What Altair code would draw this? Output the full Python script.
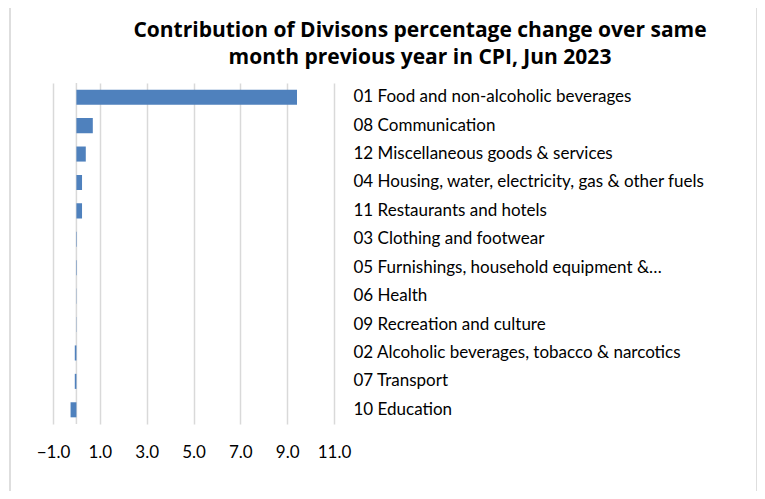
import altair as alt
import pandas as pd

categories = [
    "01 Food and non-alcoholic beverages",
    "08 Communication",
    "12 Miscellaneous goods & services",
    "04 Housing, water, electricity, gas & other fuels",
    "11 Restaurants and hotels",
    "03 Clothing and footwear",
    "05 Furnishings, household equipment &\u2026",
    "06 Health",
    "09 Recreation and culture",
    "02 Alcoholic beverages, tobacco & narcotics",
    "07 Transport",
    "10 Education",
]
values = [9.42, 0.70, 0.40, 0.24, 0.24, 0.02, 0.02, 0.01, 0.01, -0.07, -0.07, -0.25]
x_ticks = [-1, 1, 3, 5, 7, 9, 11]
title_lines = ["Contribution of Divisons percentage change over same",
               "month previous year in CPI, Jun 2023"]

df = pd.DataFrame({"division": categories, "value": values})

W, H = 281, 341
FONT = "Lato"
TITLE_FONT = "Open Sans"

y_enc = alt.Y(
    "division:N",
    sort=categories,
    scale=alt.Scale(paddingInner=0.47, paddingOuter=0.235),
    axis=alt.Axis(
        orient="right", title=None, domain=False, ticks=False,
        labelPadding=19, labelFont=FONT, labelFontSize=17,
        labelColor="#000000", labelAlign="left", labelLimit=420,
    ),
)

bars = alt.Chart(df).mark_bar(color="#4f81bd").encode(
    x=alt.X(
        "value:Q",
        scale=alt.Scale(domain=[-1, 11], nice=False, zero=False),
        axis=alt.Axis(
            values=x_ticks, format=".1f", title=None, domain=False, ticks=False,
            grid=True, gridColor="#d9d9d9", gridWidth=1.5,
            labelFont=FONT, labelFontSize=17, labelColor="#000000",
            labelPadding=20, labelFlush=False, labelOverlap=False,
        ),
    ),
    y=y_enc,
)

zero_rule = alt.Chart(pd.DataFrame({"z": [0]})).mark_rule(
    color="#d9d9d9", strokeWidth=1.5
).encode(x="z:Q")

border = alt.Chart(pd.DataFrame({"b": [0]})).mark_rect(
    fill=None, stroke="#d4d4d4", strokeWidth=1.5, clip=False
).encode(
    x=alt.value(-43), x2=alt.value(704), y=alt.value(-95), y2=alt.value(414)
)

title1 = alt.Chart(pd.DataFrame({"t": [title_lines[0]]})).mark_text(
    font=TITLE_FONT, fontSize=21, fontWeight="bold", color="#000000",
    align="center", baseline="middle",
).encode(text="t:N", x=alt.value(367), y=alt.value(-52))

title2 = alt.Chart(pd.DataFrame({"t": [title_lines[1]]})).mark_text(
    font=TITLE_FONT, fontSize=21, fontWeight="bold", color="#000000",
    align="center", baseline="middle",
).encode(text="t:N", x=alt.value(367), y=alt.value(-25))

chart = alt.layer(zero_rule, bars, border, title1, title2).properties(
    width=W,
    height=H,
    autosize=alt.AutoSizeParams(type="none"),
    padding={"left": 45, "top": 75, "right": 423, "bottom": 67},
).configure(background="white").configure_view(stroke=None)

chart.save("out.html", embed_options={"renderer": "svg", "actions": False})
